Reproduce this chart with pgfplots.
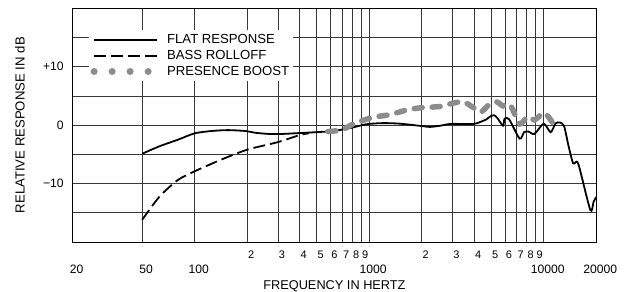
\documentclass[border=0pt]{standalone}
\usepackage{fontspec}
\setmainfont{Liberation Sans}
\usepackage{pgfplots}
\pgfplotsset{compat=1.18}
\definecolor{boostgray}{RGB}{140,140,140}
\newcommand\lowlab[1]{\raisebox{-15bp}{\fontsize{12.2}{13}\selectfont #1}}
\pgfplotsset{
  longleg/.style={legend image code/.code={\draw[##1] (0bp,0bp) -- (63bp,0bp);}},
  dotleg/.style={legend image code/.code={\draw[boostgray, line width=7bp, line cap=round, dash pattern=on 0.01bp off 18bp] (0bp,0bp) -- (63bp,0bp);}},
}
\begin{document}
\begin{tikzpicture}
\useasboundingbox (-72.7bp,-50bp) rectangle (551.3bp,242bp);
\begin{axis}[
  at={(0,0)}, anchor=south west,
  scale only axis, width=523.5bp, height=233.7bp,
  xmode=log, xmin=20, xmax=20000, ymin=-20, ymax=20,
  xtick={20,50,100,200,300,400,500,600,700,800,900,1000,2000,3000,4000,5000,6000,7000,8000,9000,10000,20000},
  xticklabels={\lowlab{20},\lowlab{50},\lowlab{100},2,3,4,5,6,7,8,9,\lowlab{1000},2,3,4,5,6,7,8,9,\lowlab{10000},\lowlab{20000}},
  minor xtick={}, minor ytick={},
  ytick={-15,-10,-5,0,5,10,15},
  yticklabels={,−10,,0,,+10,},
  grid=major,
  major grid style={black!78, line width=0.8bp},
  axis line style={black, line width=0.9bp},
  major tick length=0pt, minor tick length=0pt,
  xticklabel style={anchor=base, yshift=-16bp, xshift=4bp, font=\fontsize{11}{12}\selectfont},
  yticklabel style={anchor=east, xshift=-5.5bp, font=\fontsize{12.2}{13}\selectfont},
  every axis y label/.style={at={(axis description cs:-0.1007,0.5)}, rotate=90, anchor=center, font=\fontsize{13.2}{14}\selectfont},
  every axis x label/.style={at={(axis description cs:0.5,-0.188)}, anchor=center, font=\fontsize{12.8}{14}\selectfont},
  xlabel={FREQUENCY IN HERTZ},
  ylabel={RELATIVE RESPONSE IN dB},
  legend style={at={(0.03,0.907)}, anchor=north west, draw=none, fill=white,
    font=\fontsize{13.2}{14}\selectfont, inner sep=2bp, column sep=5bp,
    nodes={inner sep=1.5bp, text height=10bp, text depth=2.7bp}},
  legend cell align=left,
]
\addplot[black, line width=1.8bp, smooth, tension=0.45, longleg] table {
50 -4.9
63 -3.6
80 -2.5
100 -1.4
125 -1.0
155 -0.85
195 -1.0
222 -1.3
265 -1.5
320 -1.5
400 -1.35
500 -1.2
620 -1.0
780 -0.5
960 0.15
1200 0.35
1500 0.25
2000 -0.15
2230 -0.3
2550 -0.1
2900 0.2
3500 0.2
3960 0.2
4300 0.5
4700 1.0
5000 1.6
5200 1.7
5400 1.3
5850 -0.1
5970 1.1
6340 1.0
7280 -2.3
7720 -1.2
8200 -1.1
8860 -1.5
10000 0.25
10960 -1.2
11700 0.3
12400 0.45
13100 -0.2
13890 -3.6
14720 -6.5
15180 -6.4
15860 -6.8
18500 -14.5
19330 -13.1
20000 -12.3
};
\addlegendentry{FLAT RESPONSE}
\addplot[black, line width=1.8bp, smooth, tension=0.45, dash pattern=on 12bp off 5bp, longleg] table {
50 -16.2
63 -12.2
80 -9.4
100 -7.9
142 -5.9
200 -4.2
300 -2.9
400 -1.7
450 -1.4
};
\addlegendentry{BASS ROLLOFF}
\addplot[boostgray, line width=5.5bp, line cap=round, smooth, tension=0.45, dash pattern=on 8bp off 10bp, dotleg] table {
580 -1.1
700 -0.8
810 0.2
1040 1.3
1320 1.8
1640 2.6
1880 2.9
2014 3.0
2550 3.2
2965 3.7
3450 4.0
3960 3.0
4350 2.2
4900 3.6
5370 4.0
5850 3.3
6240 3.7
6570 3.0
7300 0.2
8070 1.45
8860 0.9
10000 2.1
10720 1.3
11300 0.3
};
\addlegendentry{PRESENCE BOOST}
\end{axis}
\end{tikzpicture}
\end{document}
